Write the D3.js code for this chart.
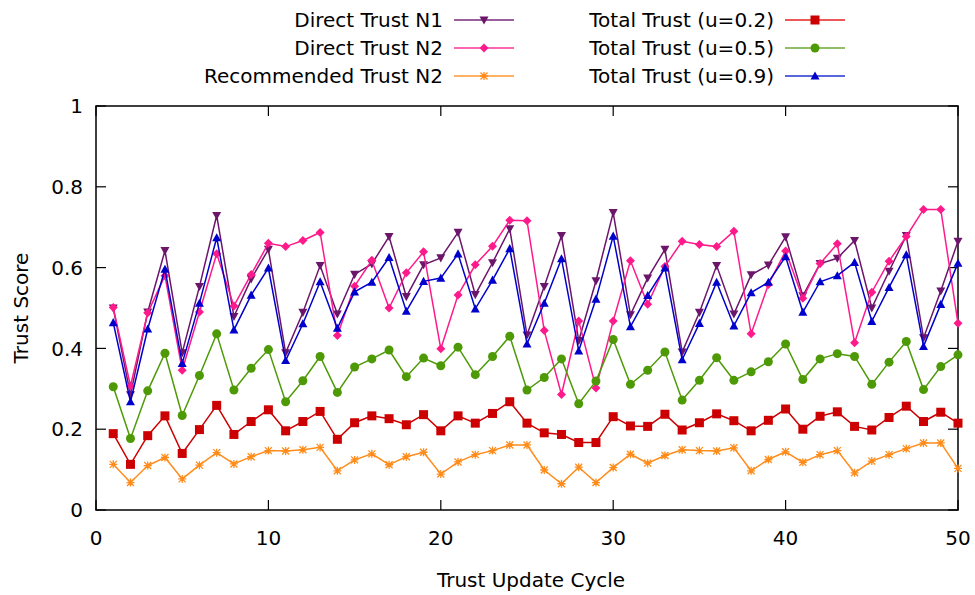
<!DOCTYPE html>
<html><head><meta charset="utf-8">
<script src="https://cdn.jsdelivr.net/npm/d3@7"></script>
<style>body{margin:0;background:#fff}svg{display:block}text{font-family:"DejaVu Sans",sans-serif;}</style>
</head><body><svg id="c" width="975" height="595"></svg>
<script>
const cycles = d3.range(1, 51);
const directN1 = [0.500,0.285,0.490,0.642,0.389,0.553,0.729,0.479,0.572,0.645,0.389,0.489,0.605,0.485,0.583,0.609,0.677,0.528,0.607,0.624,0.687,0.533,0.612,0.696,0.433,0.553,0.679,0.419,0.567,0.736,0.483,0.574,0.645,0.391,0.489,0.605,0.485,0.582,0.606,0.676,0.530,0.610,0.623,0.667,0.500,0.591,0.679,0.426,0.542,0.665];
const directN2 = [0.501,0.307,0.488,0.580,0.346,0.490,0.634,0.505,0.583,0.660,0.652,0.667,0.687,0.432,0.554,0.618,0.500,0.587,0.639,0.399,0.532,0.607,0.653,0.717,0.716,0.444,0.286,0.468,0.302,0.468,0.617,0.509,0.603,0.665,0.657,0.652,0.690,0.436,0.558,0.641,0.524,0.610,0.659,0.414,0.539,0.616,0.677,0.744,0.744,0.462];
const recN2 = [0.113,0.068,0.110,0.130,0.077,0.111,0.142,0.114,0.132,0.147,0.146,0.149,0.155,0.097,0.124,0.139,0.112,0.132,0.143,0.089,0.119,0.137,0.147,0.161,0.161,0.099,0.065,0.106,0.068,0.105,0.138,0.116,0.135,0.149,0.147,0.146,0.154,0.097,0.125,0.144,0.118,0.137,0.147,0.092,0.121,0.137,0.152,0.166,0.166,0.103];
const total02 = [0.189,0.113,0.184,0.233,0.140,0.199,0.259,0.187,0.219,0.248,0.196,0.219,0.244,0.175,0.216,0.233,0.226,0.211,0.236,0.196,0.233,0.215,0.239,0.268,0.215,0.191,0.187,0.167,0.167,0.231,0.208,0.207,0.237,0.198,0.216,0.238,0.221,0.196,0.222,0.250,0.200,0.232,0.243,0.207,0.198,0.229,0.257,0.219,0.242,0.215];
const total05 = [0.305,0.177,0.295,0.388,0.234,0.333,0.436,0.297,0.351,0.397,0.268,0.320,0.380,0.291,0.354,0.374,0.396,0.330,0.376,0.357,0.403,0.335,0.380,0.430,0.297,0.328,0.374,0.263,0.319,0.422,0.311,0.346,0.391,0.272,0.321,0.377,0.321,0.342,0.367,0.411,0.323,0.374,0.387,0.380,0.311,0.366,0.417,0.298,0.355,0.384];
const total09 = [0.464,0.268,0.448,0.596,0.363,0.512,0.674,0.446,0.532,0.599,0.370,0.461,0.565,0.450,0.540,0.564,0.625,0.492,0.566,0.574,0.634,0.498,0.569,0.647,0.411,0.512,0.622,0.394,0.522,0.678,0.454,0.531,0.599,0.372,0.462,0.564,0.456,0.538,0.564,0.627,0.490,0.565,0.580,0.613,0.467,0.551,0.632,0.405,0.509,0.611];
const seriesNames = ["Direct Trust N1","Direct Trust N2","Recommended Trust N2","Total Trust (u=0.2)","Total Trust (u=0.5)","Total Trust (u=0.9)"];
const seriesValues = [directN1, directN2, recN2, total02, total05, total09];
const seriesColors = ["#6b156b","#ff1a8c","#ff8c1a","#cc0000","#4e9a06","#0000cc"];
const seriesLegendColors = ["#7a2a7a","#ff3399","#ff9933","#e32020","#6aaa32","#2233cc"];
const seriesMarkers = ["tridown","diamond","star","square","circle","triup"];
const xTicks = [0,10,20,30,40,50];
const yTicks = [0,0.2,0.4,0.6,0.8,1];

const svg = d3.select("#c");
const L = 96, R = 958, T = 106, B = 510;
const FS = 20;
const x = d3.scaleLinear().domain([0,50]).range([L,R]);
const y = d3.scaleLinear().domain([0,1]).range([B,T]);

function marker(g, type, color, cx, cy) {
  const s = 4.5;
  if (type === "square") {
    g.append("rect").attr("x",cx-s).attr("y",cy-s).attr("width",2*s).attr("height",2*s).attr("fill",color);
  } else if (type === "circle") {
    g.append("circle").attr("cx",cx).attr("cy",cy).attr("r",s).attr("fill",color);
  } else if (type === "diamond") {
    g.append("path").attr("d",`M${cx},${cy-s}L${cx+s},${cy}L${cx},${cy+s}L${cx-s},${cy}Z`).attr("fill",color);
  } else if (type === "triup") {
    g.append("path").attr("d",`M${cx},${cy-s}L${cx+s},${cy+s*0.8}L${cx-s},${cy+s*0.8}Z`).attr("fill",color);
  } else if (type === "tridown") {
    g.append("path").attr("d",`M${cx},${cy+s}L${cx+s},${cy-s*0.8}L${cx-s},${cy-s*0.8}Z`).attr("fill",color);
  } else if (type === "star") {
    const a = 3.5;
    g.append("path").attr("d",`M${cx-a},${cy-a}L${cx+a},${cy+a}M${cx-a},${cy+a}L${cx+a},${cy-a}M${cx},${cy-a-0.5}L${cx},${cy+a+0.5}M${cx-a-0.5},${cy}L${cx+a+0.5},${cy}`)
      .attr("stroke",color).attr("stroke-width",1.3).attr("fill","none");
  }
}

// frame
svg.append("rect").attr("x",L).attr("y",T).attr("width",R-L).attr("height",B-T)
  .attr("fill","none").attr("stroke","#000").attr("stroke-width",1.5);

// ticks and labels
const ty = svg.append("g");
yTicks.forEach(v => {
  ty.append("line").attr("x1",L).attr("x2",L+10).attr("y1",y(v)).attr("y2",y(v)).attr("stroke","#000").attr("stroke-width",1.2);
  ty.append("line").attr("x1",R).attr("x2",R-10).attr("y1",y(v)).attr("y2",y(v)).attr("stroke","#000").attr("stroke-width",1.2);
  ty.append("text").attr("x",L-13).attr("y",y(v)).attr("dy","0.36em").attr("text-anchor","end")
    .attr("font-size",FS).text(d3.format("")(v));
});
xTicks.forEach(v => {
  ty.append("line").attr("x1",x(v)).attr("x2",x(v)).attr("y1",B).attr("y2",B-10).attr("stroke","#000").attr("stroke-width",1.2);
  ty.append("line").attr("x1",x(v)).attr("x2",x(v)).attr("y1",T).attr("y2",T+10).attr("stroke","#000").attr("stroke-width",1.2);
  ty.append("text").attr("x",x(v)).attr("y",B+28).attr("dy","0.36em").attr("text-anchor","middle")
    .attr("font-size",FS).text(v);
});
svg.append("text").attr("x",(L+R)/2+4).attr("y",580).attr("dy","0.36em").attr("text-anchor","middle")
  .attr("font-size",FS).text("Trust Update Cycle");
svg.append("text").attr("transform",`translate(21,${(T+B)/2}) rotate(-90)`).attr("dy","0.36em").attr("text-anchor","middle")
  .attr("font-size",FS).text("Trust Score");

// series
const line = d3.line().x((d,i)=>x(cycles[i])).y(d=>y(d));
seriesValues.forEach((vals, k) => {
  const g = svg.append("g");
  g.append("path").attr("d", line(vals)).attr("fill","none").attr("stroke",seriesColors[k]).attr("stroke-width",1.5);
  vals.forEach((v,i) => marker(g, seriesMarkers[k], seriesColors[k], x(cycles[i]), y(v)));
});

// legend
const legRows = [20, 48, 76];
seriesNames.forEach((name, k) => {
  const col = k < 3 ? 0 : 1;
  const row = k % 3;
  const textEnd = col === 0 ? 443 : 774;
  const lx1 = col === 0 ? 454 : 785;
  const lx2 = lx1 + 60;
  const yy = legRows[row];
  svg.append("text").attr("x",textEnd).attr("y",yy).attr("dy","0.36em").attr("text-anchor","end")
    .attr("font-size",FS).text(name);
  svg.append("line").attr("x1",lx1).attr("x2",lx2).attr("y1",yy).attr("y2",yy)
    .attr("stroke",seriesLegendColors[k]).attr("stroke-width",1.5);
  marker(svg, seriesMarkers[k], seriesColors[k], (lx1+lx2)/2, yy);
});
</script></body></html>
